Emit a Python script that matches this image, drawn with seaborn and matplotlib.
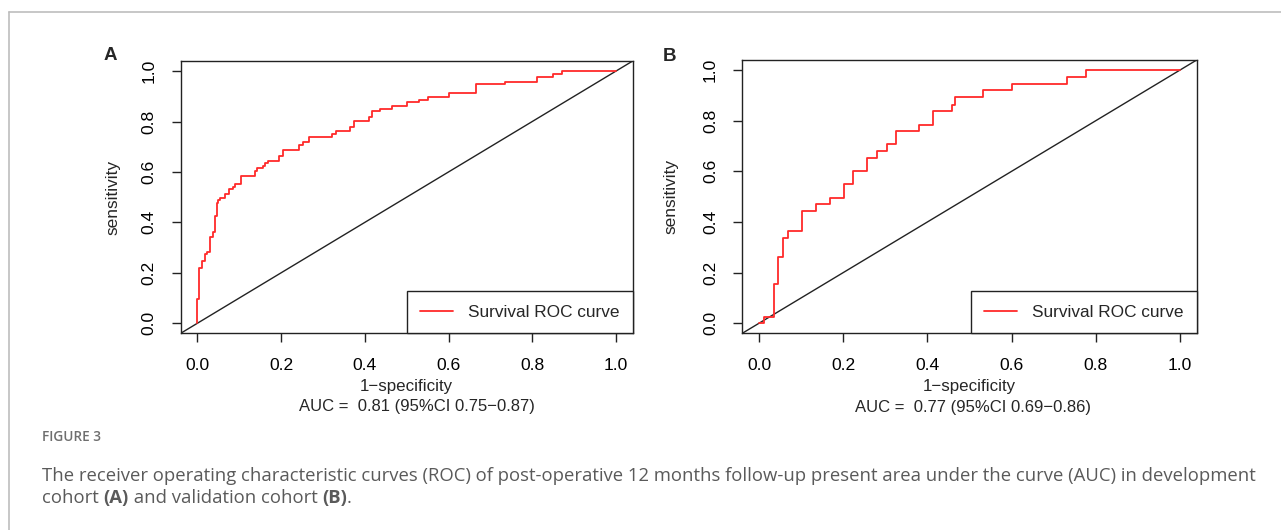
import matplotlib
matplotlib.use("Agg")
import matplotlib.pyplot as plt
import seaborn as sns
import pandas as pd
from matplotlib.lines import Line2D

# ---------------- data ----------------
fpr_a = [0.0, 0.0, 0.003, 0.012, 0.017, 0.022, 0.031, 0.036, 0.041, 0.046, 0.050,
         0.055, 0.065, 0.075, 0.085, 0.089, 0.104, 0.137, 0.143, 0.157, 0.162,
         0.168, 0.196, 0.205, 0.243, 0.252, 0.267, 0.321, 0.330, 0.364, 0.374,
         0.409, 0.417, 0.436, 0.466, 0.500, 0.530, 0.550, 0.600, 0.665, 0.735,
         0.811, 0.850, 0.870, 1.0]
tpr_a = [0.0, 0.095, 0.218, 0.248, 0.275, 0.281, 0.341, 0.363, 0.427, 0.476, 0.489,
         0.498, 0.511, 0.531, 0.542, 0.551, 0.584, 0.605, 0.614, 0.624, 0.634,
         0.645, 0.663, 0.687, 0.705, 0.717, 0.737, 0.749, 0.761, 0.779, 0.802,
         0.819, 0.841, 0.850, 0.863, 0.876, 0.885, 0.896, 0.915, 0.947, 0.956,
         0.977, 0.988, 1.0, 1.0]

fpr_b = [0.0, 0.012, 0.036, 0.045, 0.057, 0.069, 0.102, 0.135, 0.169, 0.202, 0.223,
         0.257, 0.280, 0.303, 0.325, 0.379, 0.413, 0.459, 0.465, 0.532, 0.600,
         0.732, 0.776, 1.0]
tpr_b = [0.0, 0.026, 0.155, 0.261, 0.338, 0.364, 0.443, 0.470, 0.496, 0.549, 0.601,
         0.654, 0.680, 0.707, 0.759, 0.784, 0.837, 0.864, 0.895, 0.921, 0.947,
         0.974, 1.0, 1.0]

panel_letters = ["A", "B"]
auc_labels = ["AUC =  0.81 (95%CI 0.75\u22120.87)", "AUC =  0.77 (95%CI 0.69\u22120.86)"]
tick_values = [0.0, 0.2, 0.4, 0.6, 0.8, 1.0]
tick_labels = ["0.0", "0.2", "0.4", "0.6", "0.8", "1.0"]
legend_label = "Survival ROC curve"
xlabel = "1\u2212specificity"
ylabel = "sensitivity"
fig_label = "FIGURE 3"
caption_line1 = ("The receiver operating characteristic curves (ROC) of post-operative 12 months "
                 "follow-up present area under the curve (AUC) in development")
caption_line2 = [("cohort ", "normal"), ("(A)", "bold"), (" and validation cohort ", "normal"),
                 ("(B)", "bold"), (".", "normal")]

# ---------------- style ----------------
sns.set_theme(style="ticks")
plt.rcParams["font.family"] = ["Liberation Sans", "DejaVu Sans"]
plt.rcParams["axes.edgecolor"] = "#222222"
plt.rcParams["axes.linewidth"] = 1.0

W, H = 1281, 530
fig = plt.figure(figsize=(W / 100, H / 100), dpi=100)
fig.patch.set_facecolor("white")

def px_axes(left, top, right, bottom):
    return fig.add_axes([left / W, 1 - bottom / H, (right - left) / W, (bottom - top) / H])

axes = [px_axes(180.7, 61, 632.7, 333.3), px_axes(742.3, 60, 1196.7, 333.3)]
data = [(fpr_a, tpr_a), (fpr_b, tpr_b)]
auc_x = [416.5, 973.0]
ylab_x = [113.0, 670.5]
letter_pos = [(110, 55.5), (669, 56.5)]

for i, ax in enumerate(axes):
    fx, ty = data[i]
    df = pd.DataFrame({"fpr": fx, "tpr": ty})
    ax.axline((0, 0), slope=1, color="#222222", lw=1.0, zorder=1)
    sns.lineplot(data=df, x="fpr", y="tpr", ax=ax, estimator=None, sort=False,
                 drawstyle="steps-post", color="#ff2a2a", lw=1.3, label=legend_label,
                 zorder=3)
    ax.set_xlim(-0.04, 1.04)
    ax.set_ylim(-0.04, 1.04)
    ax.set_xticks(tick_values)
    ax.set_xticklabels(tick_labels)
    ax.set_yticks(tick_values)
    ax.set_yticklabels(tick_labels)
    ax.tick_params(axis="both", length=6.5, width=1.0, color="#222222",
                   labelsize=12.6, labelcolor="black", pad=11)
    ax.tick_params(axis="y", labelrotation=90)
    for lab in ax.get_yticklabels():
        lab.set_va("center")
    ax.set_xlabel("")
    ax.set_ylabel("")
    pos = ax.get_position()
    x0, wd = pos.x0 * W, pos.width * W
    ax.text(0.5, (333.3 - 386) / 272.3, xlabel, transform=ax.transAxes,
            ha="center", va="center", fontsize=12.2)
    ax.text((auc_x[i] - x0) / wd, (333.3 - 407) / 272.3, auc_labels[i],
            transform=ax.transAxes, ha="center", va="center", fontsize=12.0)
    ax.text((ylab_x[i] - x0) / wd, 0.5, ylabel, transform=ax.transAxes, rotation=90,
            ha="center", va="center", fontsize=12.4)
    leg = ax.legend(loc="lower right", borderaxespad=0, fancybox=False, frameon=True,
                    fontsize=12.4, handlelength=1.9, handletextpad=0.85,
                    borderpad=0.78, edgecolor="#222222", framealpha=1)
    leg.get_frame().set_linewidth(1.0)
    for s in ax.spines.values():
        s.set_visible(True)
    lx, ly = letter_pos[i]
    fig.text(lx / W, 1 - ly / H, panel_letters[i], ha="center", va="center",
             fontsize=13.5, fontweight="bold")

# ---------------- frame & caption ----------------
frame_c = "#bdbdbd"
fig.add_artist(Line2D([9 / W, 1], [1 - 12 / H, 1 - 12 / H], color=frame_c, lw=1.2))
fig.add_artist(Line2D([9 / W, 9 / W], [0, 1 - 12 / H], color=frame_c, lw=1.2))

cap_font = ["Open Sans", "DejaVu Sans"]
fig.text(42 / W, 1 - 437 / H, fig_label, ha="left", va="center", fontsize=9.8,
         family=cap_font, fontweight="semibold", color="#6e6e6e")
fig.text(42 / W, 1 - 476 / H, caption_line1, ha="left", va="center", fontsize=13.3,
         family=cap_font, color="#5a5a5a")

renderer = fig.canvas.get_renderer()
x_cursor = 42
for txt, wt in caption_line2:
    t = fig.text(x_cursor / W, 1 - 498 / H, txt, ha="left", va="center", fontsize=13.3,
                 family=cap_font, fontweight=wt, color="#5a5a5a")
    bb = t.get_window_extent(renderer=renderer)
    x_cursor += bb.width

fig.savefig("out.png", dpi=100, facecolor="white")
